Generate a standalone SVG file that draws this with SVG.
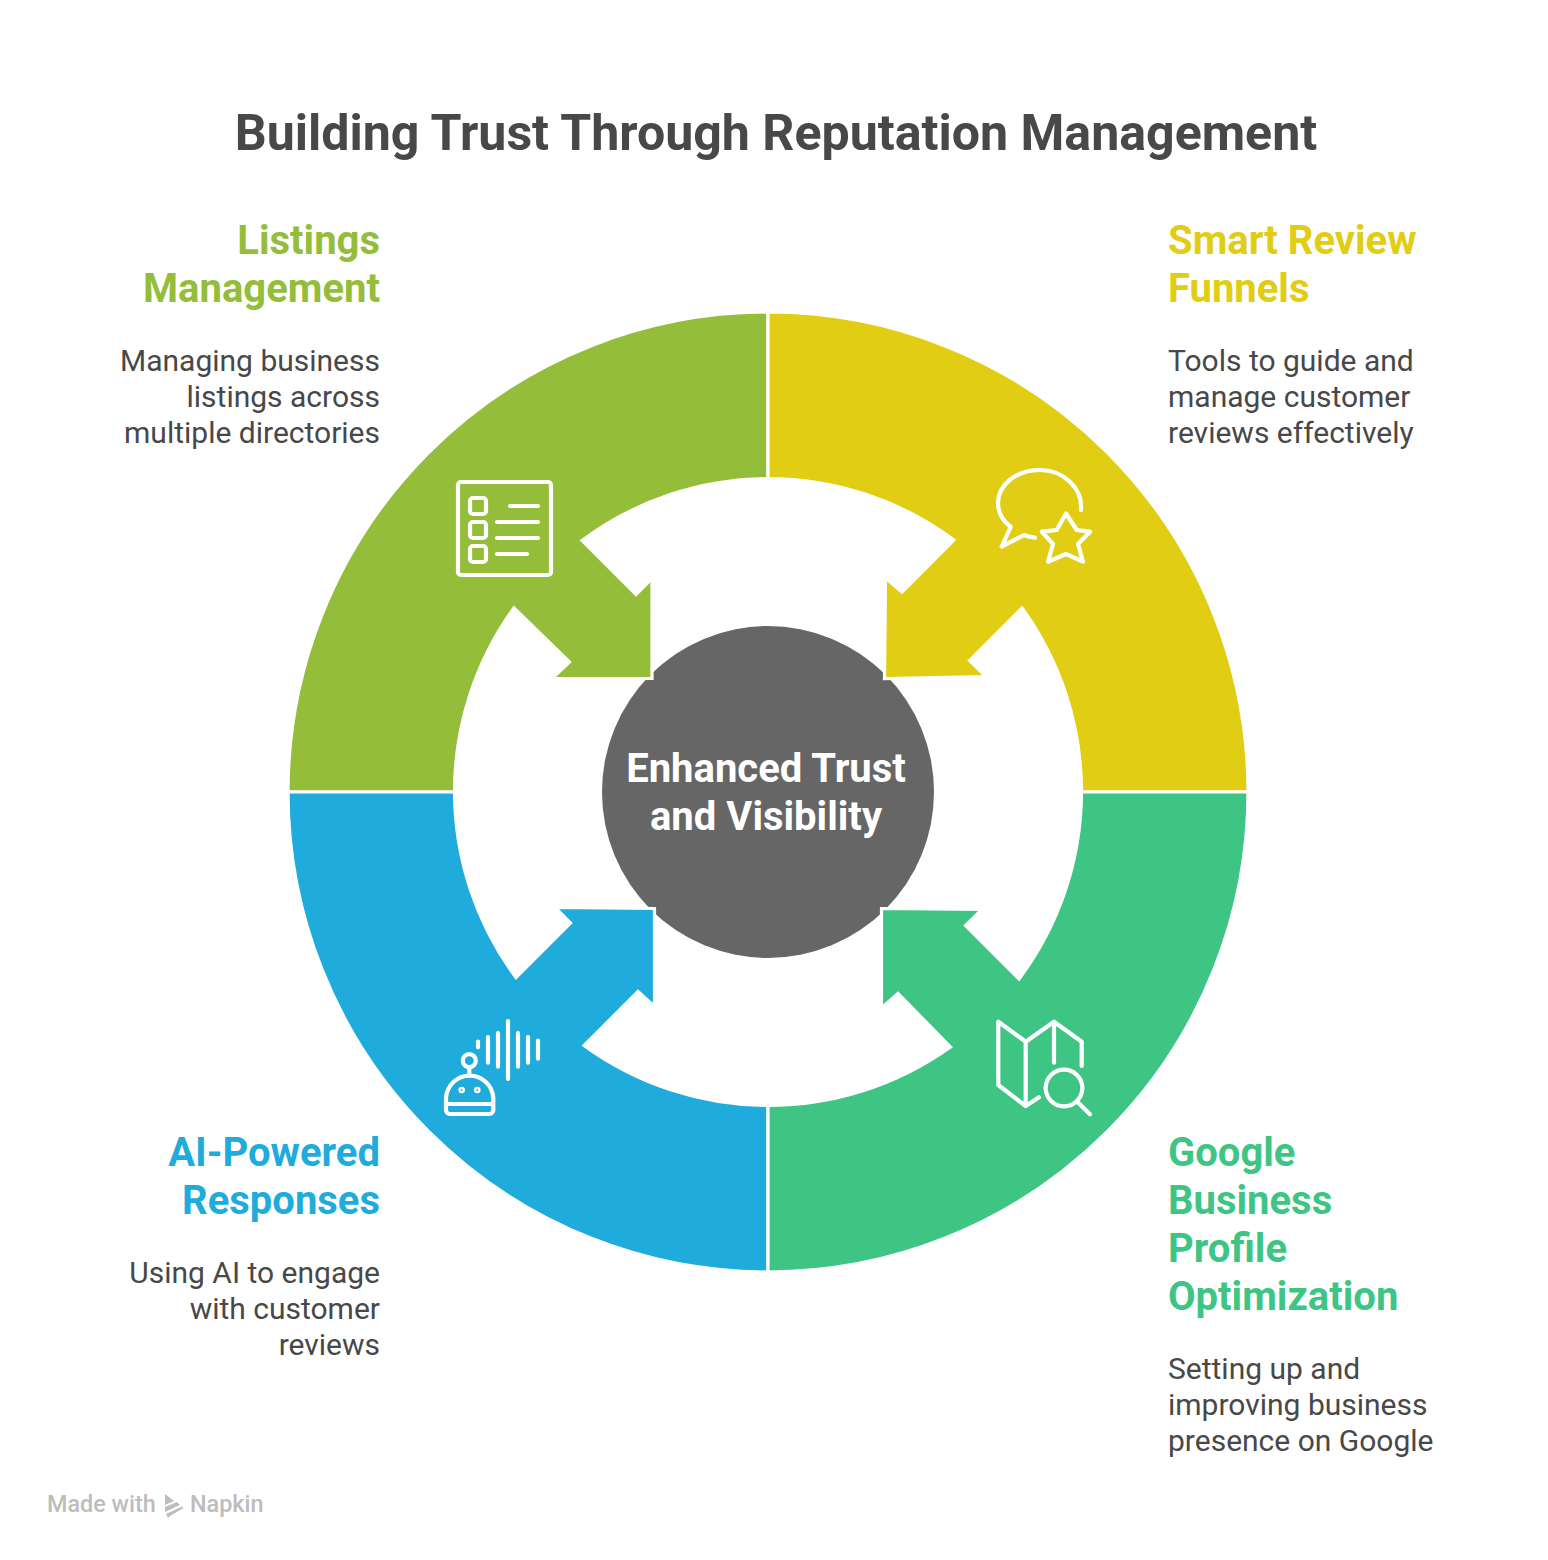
<svg xmlns="http://www.w3.org/2000/svg" width="1548" height="1560" viewBox="0 0 1548 1560">
<style>
text{font-family:Roboto,"Liberation Sans",sans-serif}
.title{font-size:50.1px;font-weight:700;fill:#484848}
.head{font-size:40px;font-weight:700}
.center{font-size:40px;font-weight:700;fill:#fff;text-anchor:middle}
.body{font-size:30px;font-weight:400;fill:#484848}
.end{text-anchor:end}
.mark{font-size:23.4px;font-weight:500;fill:#BDBDBD}
.seg{stroke:#fff;stroke-width:3.2;stroke-linejoin:miter;stroke-miterlimit:10}
.icon{fill:none;stroke:#fff;stroke-width:4.2;stroke-linecap:round;stroke-linejoin:round}
.g{fill:#94BD3A}.y{fill:#E0CD14}.b{fill:#1FABDB}.t{fill:#3EC584}
</style>
<rect width="1548" height="1560" fill="#fff"/>
<text id="title" class="title" x="776" y="150" text-anchor="middle">Building Trust Through Reputation Management</text>
<g id="center"><circle cx="768" cy="792" r="166" fill="#666"/></g>
<g id="connectors">
<path id="seg-listings" class="seg g" d="M768,312A480,480 0 0 0 288,792H454.5A313.5,313.5 0 0 1 514,608L569.5,662L552,678.5H652V578.5L636,594.5L582,540.5A313.5,313.5 0 0 1 768,478.5Z"/>
<path id="seg-funnels" class="seg y" d="M768,312A480,480 0 0 1 1248,792H1081.5A313.5,313.5 0 0 0 1022,608L969.5,660.5L986,676.5L884.5,678.5L885.5,578L902,592L954,540A313.5,313.5 0 0 0 768,478.5Z"/>
<path id="seg-ai" class="seg b" d="M288,792A480,480 0 0 0 768,1272V1105.5A313.5,313.5 0 0 1 584,1045.5L638,991.5L654.5,1006.5V908.5L555,907.5L570.5,923L516,977.5A313.5,313.5 0 0 1 454.5,792Z"/>
<path id="seg-google" class="seg t" d="M1248,792A480,480 0 0 1 768,1272V1105.5A313.5,313.5 0 0 0 950.5,1047L898,993.5L881.5,1008V908.5L982,909.5L965.5,925.5L1019,979A313.5,313.5 0 0 0 1081.5,792Z"/>
</g>
<g id="center-label"><text class="center" x="766" y="782">Enhanced Trust</text><text class="center" x="766" y="830">and Visibility</text></g>
<g id="node-listings">
<text class="head end" x="380" y="254" fill="#94BD3A">Listings</text><text class="head end" x="380" y="302" fill="#94BD3A">Management</text>
<text class="body end" x="380" y="371">Managing business</text><text class="body end" x="380" y="407">listings across</text><text class="body end" x="380" y="443">multiple directories</text>
<g class="icon"><rect x="458" y="482" width="93" height="93" rx="3"/><rect x="470" y="498" width="16" height="16" rx="3"/><rect x="470" y="522" width="16" height="16" rx="3"/><rect x="470" y="546" width="16" height="16" rx="3"/><path d="M510,506H538M497,522H538M497,538H538M497,554H527"/></g>
</g>
<g id="node-funnels">
<text class="head" x="1168" y="254" fill="#E0CD14">Smart Review</text><text class="head" x="1168" y="302" fill="#E0CD14">Funnels</text>
<text class="body" x="1168" y="371">Tools to guide and</text><text class="body" x="1168" y="407">manage customer</text><text class="body" x="1168" y="443">reviews effectively</text>
<g class="icon"><path d="M1081,510C1083,488 1063,470 1040,470C1016,470 998,485 998,503C998,513 1003,521 1010.7,527L1001.7,546.7L1024,535Q1029,537 1035,537.7"/><path d="M1066,513.5L1076.7,530L1090,531.7L1078,544L1083,561.7L1066,554L1048,561.7L1053,544L1041.7,531.7L1056.7,530Z"/></g>
</g>
<g id="node-ai">
<text class="head end" x="380" y="1166" fill="#1FABDB">AI-Powered</text><text class="head end" x="380" y="1214" fill="#1FABDB">Responses</text>
<text class="body end" x="380" y="1283">Using AI to engage</text><text class="body end" x="380" y="1319">with customer</text><text class="body end" x="380" y="1355">reviews</text>
<g class="icon"><path d="M478,1041.7V1047.3M488,1037V1062.7M498,1033V1066.7M508,1021V1079M518,1033V1066.7M528,1037V1062.7M538,1040.7V1058.7"/><circle cx="469.3" cy="1060.7" r="6.5"/><path d="M469.3,1067.5V1074M446,1098A23.7,24 0 0 1 493.3,1098V1110A4,4 0 0 1 489.3,1114H450A4,4 0 0 1 446,1110ZM446,1104H493.3"/><circle cx="461.7" cy="1090" r="1.2"/><circle cx="477.3" cy="1090" r="1.2"/></g>
</g>
<g id="node-google">
<text class="head" x="1168" y="1166" fill="#3EC584">Google</text><text class="head" x="1168" y="1214" fill="#3EC584">Business</text><text class="head" x="1168" y="1262" fill="#3EC584">Profile</text><text class="head" x="1168" y="1310" fill="#3EC584">Optimization</text>
<text class="body" x="1168" y="1379">Setting up and</text><text class="body" x="1168" y="1415">improving business</text><text class="body" x="1168" y="1451">presence on Google</text>
<g class="icon"><path d="M1039,1097.3L1025.7,1106L998.3,1085V1021.7L1025.7,1041.7L1054,1021.7L1081.7,1041.7V1066M1025.7,1041.7V1106M1054,1021.7V1062.7"/><circle cx="1064" cy="1088" r="18.3"/><path d="M1078.3,1102.7L1090,1114.3"/></g>
</g>
<g id="watermark"><text class="mark" x="47" y="1512">Made with</text><text class="mark" x="190" y="1512">Napkin</text><path fill="#BDBDBD" d="M165,1494L174,1501L165,1505ZM165,1507L177,1502L180,1505L165,1512ZM166,1514L182,1506.5L183.5,1508L170,1516L168,1518Z"/></g>
</svg>
